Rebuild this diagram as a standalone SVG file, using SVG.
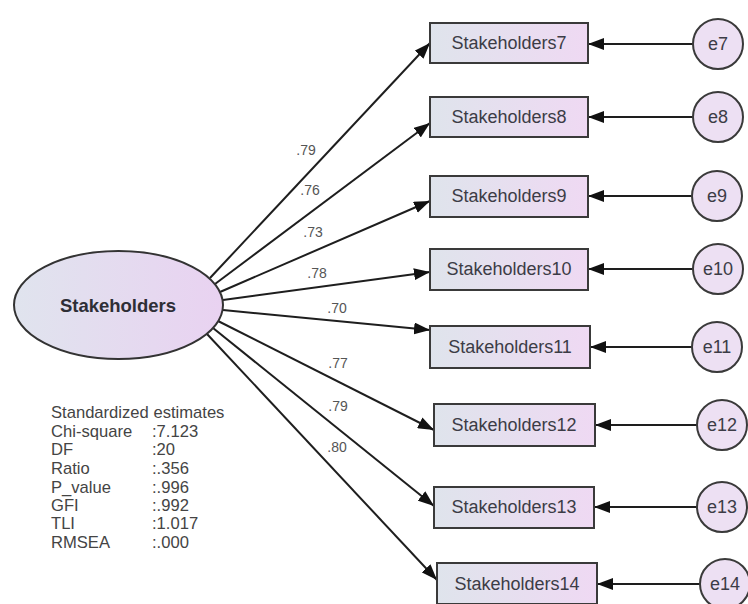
<svg xmlns="http://www.w3.org/2000/svg" width="748" height="604" viewBox="0 0 748 604">
  <defs>
    <linearGradient id="boxFill" x1="0" y1="0" x2="1" y2="0">
      <stop offset="0" stop-color="#dfe4ec"/>
      <stop offset="1" stop-color="#efd9f3"/>
    </linearGradient>
    <linearGradient id="latentFill" x1="0" y1="0" x2="1" y2="0">
      <stop offset="0" stop-color="#e0e4ee"/>
      <stop offset="1" stop-color="#e9d2f1"/>
    </linearGradient>
    <marker id="head" markerUnits="userSpaceOnUse" markerWidth="16" markerHeight="12" refX="16" refY="6" orient="auto">
      <path d="M0,0 L16,6 L0,12 z" fill="#111"/>
    </marker>
    <style>
      .box { fill: url(#boxFill); stroke: #3a3a3a; stroke-width: 2; }
      .err { fill: #ede0f3; stroke: #3a3a3a; stroke-width: 2; }
      .latent { fill: url(#latentFill); stroke: #333; stroke-width: 2; }
      .lbl { font-family: "Liberation Sans", Arial, sans-serif; font-size: 18px; fill: #3c3c46; text-anchor: middle; }
      .title { font-family: "Liberation Sans", Arial, sans-serif; font-size: 18.5px; font-weight: bold; fill: #2e2e36; text-anchor: middle; }
      .coef { font-family: "Liberation Sans", Arial, sans-serif; font-size: 14px; fill: #555; text-anchor: middle; }
      .stat { font-family: "Liberation Sans", Arial, sans-serif; font-size: 16.6px; fill: #444; }
      .path { stroke: #1e1e1e; stroke-width: 2; fill: none; marker-end: url(#head); }
    </style>
  </defs>

  <!-- connectors: factor loadings and error terms -->
  <g id="connectors">
    <line class="path" x1="210" y1="278" x2="430" y2="43"/>
    <line class="path" x1="215" y1="284" x2="430" y2="123"/>
    <line class="path" x1="220" y1="292" x2="430" y2="201"/>
    <line class="path" x1="223" y1="300" x2="430" y2="272"/>
    <line class="path" x1="223" y1="310" x2="430" y2="330"/>
    <line class="path" x1="218" y1="321" x2="434" y2="430"/>
    <line class="path" x1="213" y1="328" x2="434" y2="506"/>
    <line class="path" x1="207" y1="334" x2="437" y2="580"/>

    <line class="path" x1="693" y1="44" x2="588" y2="44"/>
    <line class="path" x1="693" y1="117" x2="588" y2="117"/>
    <line class="path" x1="692" y1="196" x2="588" y2="196"/>
    <line class="path" x1="693" y1="269" x2="588" y2="269"/>
    <line class="path" x1="692" y1="347" x2="590" y2="347"/>
    <line class="path" x1="697" y1="425" x2="595" y2="425"/>
    <line class="path" x1="697" y1="507" x2="594" y2="507"/>
    <line class="path" x1="700" y1="584" x2="597" y2="584"/>

    <text class="coef" x="306" y="155">.79</text>
    <text class="coef" x="310" y="195">.76</text>
    <text class="coef" x="313" y="237">.73</text>
    <text class="coef" x="317" y="278">.78</text>
    <text class="coef" x="337" y="313">.70</text>
    <text class="coef" x="338" y="368">.77</text>
    <text class="coef" x="338" y="411">.79</text>
    <text class="coef" x="337" y="452">.80</text>
  </g>

  <!-- latent construct -->
  <g id="Stakeholders">
    <ellipse class="latent" cx="118.5" cy="305" rx="104.5" ry="54"/>
    <text class="title" x="118" y="312">Stakeholders</text>
  </g>

  <!-- observed indicators -->
  <g id="Stakeholders7">
    <rect class="box" x="430" y="23" width="158" height="40"/>
    <text class="lbl" x="509" y="49">Stakeholders7</text>
  </g>
  <g id="Stakeholders8">
    <rect class="box" x="430" y="97" width="158" height="40"/>
    <text class="lbl" x="509" y="123">Stakeholders8</text>
  </g>
  <g id="Stakeholders9">
    <rect class="box" x="430" y="176" width="158" height="41"/>
    <text class="lbl" x="509" y="202">Stakeholders9</text>
  </g>
  <g id="Stakeholders10">
    <rect class="box" x="430" y="249" width="158" height="41"/>
    <text class="lbl" x="509" y="275">Stakeholders10</text>
  </g>
  <g id="Stakeholders11">
    <rect class="box" x="430" y="326" width="160" height="42"/>
    <text class="lbl" x="510" y="353">Stakeholders11</text>
  </g>
  <g id="Stakeholders12">
    <rect class="box" x="434" y="404" width="161" height="42"/>
    <text class="lbl" x="514" y="431">Stakeholders12</text>
  </g>
  <g id="Stakeholders13">
    <rect class="box" x="434" y="487" width="160" height="41"/>
    <text class="lbl" x="514" y="513">Stakeholders13</text>
  </g>
  <g id="Stakeholders14">
    <rect class="box" x="437" y="563" width="160" height="41"/>
    <text class="lbl" x="517" y="590">Stakeholders14</text>
  </g>

  <!-- error terms -->
  <g id="e7">
    <circle class="err" cx="718" cy="44" r="25"/>
    <text class="lbl" x="718" y="50">e7</text>
  </g>
  <g id="e8">
    <circle class="err" cx="718" cy="117" r="25"/>
    <text class="lbl" x="718" y="123">e8</text>
  </g>
  <g id="e9">
    <circle class="err" cx="717" cy="196" r="25"/>
    <text class="lbl" x="717" y="202">e9</text>
  </g>
  <g id="e10">
    <circle class="err" cx="718" cy="269" r="25"/>
    <text class="lbl" x="718" y="275">e10</text>
  </g>
  <g id="e11">
    <circle class="err" cx="717" cy="347" r="25"/>
    <text class="lbl" x="717" y="353">e11</text>
  </g>
  <g id="e12">
    <circle class="err" cx="722" cy="425" r="25"/>
    <text class="lbl" x="722" y="431">e12</text>
  </g>
  <g id="e13">
    <circle class="err" cx="722" cy="507" r="25"/>
    <text class="lbl" x="722" y="513">e13</text>
  </g>
  <g id="e14">
    <circle class="err" cx="725" cy="584" r="25"/>
    <text class="lbl" x="725" y="590">e14</text>
  </g>

  <!-- model fit summary -->
  <g id="fit-summary">
    <text class="stat" x="51" y="418">Standardized estimates</text>
    <text class="stat" x="51" y="437">Chi-square</text>
    <text class="stat" x="51" y="455">DF</text>
    <text class="stat" x="51" y="474">Ratio</text>
    <text class="stat" x="51" y="493">P_value</text>
    <text class="stat" x="51" y="511">GFI</text>
    <text class="stat" x="51" y="529">TLI</text>
    <text class="stat" x="51" y="548">RMSEA</text>
    <text class="stat" x="152" y="437">:7.123</text>
    <text class="stat" x="152" y="455">:20</text>
    <text class="stat" x="152" y="474">:.356</text>
    <text class="stat" x="152" y="493">:.996</text>
    <text class="stat" x="152" y="511">:.992</text>
    <text class="stat" x="152" y="529">:1.017</text>
    <text class="stat" x="152" y="548">:.000</text>
  </g>
</svg>
